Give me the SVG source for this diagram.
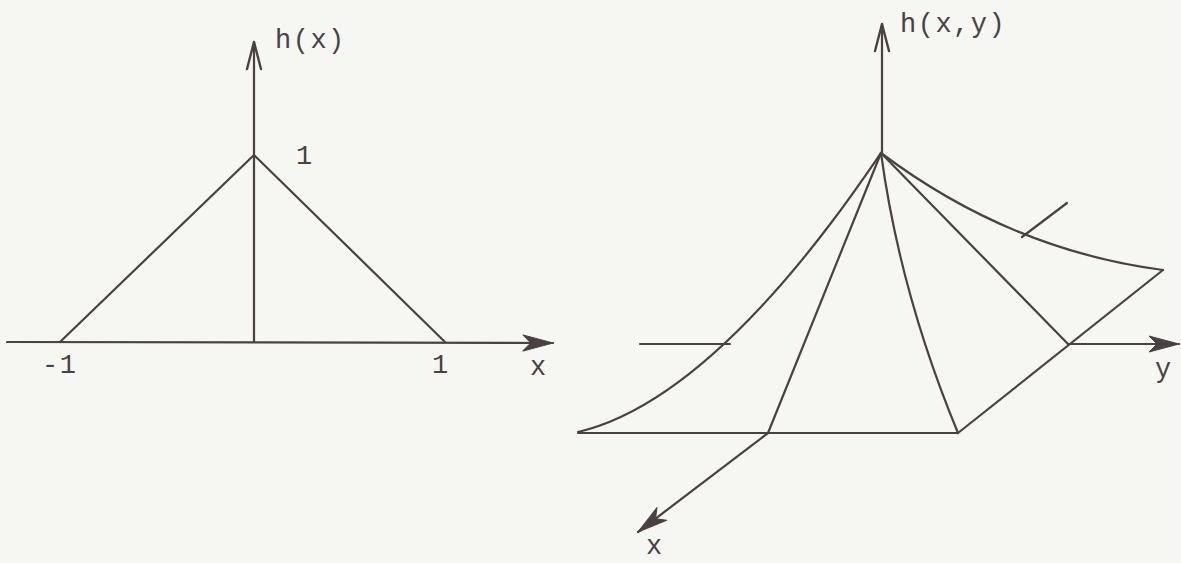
<svg xmlns="http://www.w3.org/2000/svg" width="1181" height="563" viewBox="0 0 1181 563">
  <style>
    .ln { fill: none; stroke: #4a4242; stroke-width: 2.2; stroke-linecap: round; stroke-linejoin: round; }
    .lbl { font-family: "Liberation Mono", "DejaVu Sans Mono", monospace; font-size: 27px; letter-spacing: 1.5px; fill: #4a4242; }
  </style>
  <defs>
    <marker id="barb" markerUnits="userSpaceOnUse" markerWidth="40" markerHeight="24" refX="0" refY="0" viewBox="-32 -12 40 24" orient="auto" overflow="visible">
      <path d="M -30 -8 L 0 0 L -30 8 L -22 0 Z" fill="#4a4242" stroke="#4a4242" stroke-width="1" stroke-linejoin="round"/>
    </marker>
    <marker id="vee" markerUnits="userSpaceOnUse" markerWidth="40" markerHeight="24" refX="0" refY="0" viewBox="-32 -12 40 24" orient="auto" overflow="visible">
      <path d="M -27 -7 L 0 0 L -27 7" fill="none" stroke="#4a4242" stroke-width="2.4" stroke-linecap="round" stroke-linejoin="round"/>
    </marker>
  </defs>
  <rect x="0" y="0" width="1181" height="563" fill="#f6f6f2"/>

  <g id="left-plot">
    <g id="left-connectors">
      <line class="ln" x1="7" y1="342" x2="553" y2="343" marker-end="url(#barb)"/>
      <line class="ln" x1="254" y1="342" x2="254" y2="42" marker-end="url(#vee)"/>
      <polyline class="ln" points="60,342 254,155 445,342"/>
    </g>
    <g id="left-labels">
      <text class="lbl" x="275" y="48">h(x)</text>
      <text class="lbl" x="296" y="164">1</text>
      <text class="lbl" x="42" y="373">-1</text>
      <text class="lbl" x="432" y="373">1</text>
      <text class="lbl" x="530" y="375">x</text>
    </g>
  </g>

  <g id="right-plot">
    <g id="right-connectors">
      <line class="ln" x1="882" y1="153" x2="882" y2="24" marker-end="url(#vee)"/>
      <line class="ln" x1="578" y1="433" x2="958" y2="433"/>
      <line class="ln" x1="958" y1="433" x2="1163" y2="270"/>
      <path class="ln" d="M 881 153 C 845 205 715 400 578 432"/>
      <path class="ln" d="M 881 153 Q 1010 250 1163 270"/>
      <line class="ln" x1="881" y1="153" x2="768" y2="433"/>
      <path class="ln" d="M 881 153 Q 900 293 958 433"/>
      <line class="ln" x1="881" y1="153" x2="1068" y2="344"/>
      <line class="ln" x1="768" y1="433" x2="638" y2="532" marker-end="url(#barb)"/>
      <line class="ln" x1="640" y1="344" x2="730" y2="344"/>
      <line class="ln" x1="1068" y1="344" x2="1179" y2="344" marker-end="url(#barb)"/>
      <line class="ln" x1="1022" y1="237" x2="1067" y2="203"/>
    </g>
    <g id="right-labels">
      <text class="lbl" x="900" y="32">h(x,y)</text>
      <text class="lbl" x="1155" y="377">y</text>
      <text class="lbl" x="646" y="554">x</text>
    </g>
  </g>
</svg>
